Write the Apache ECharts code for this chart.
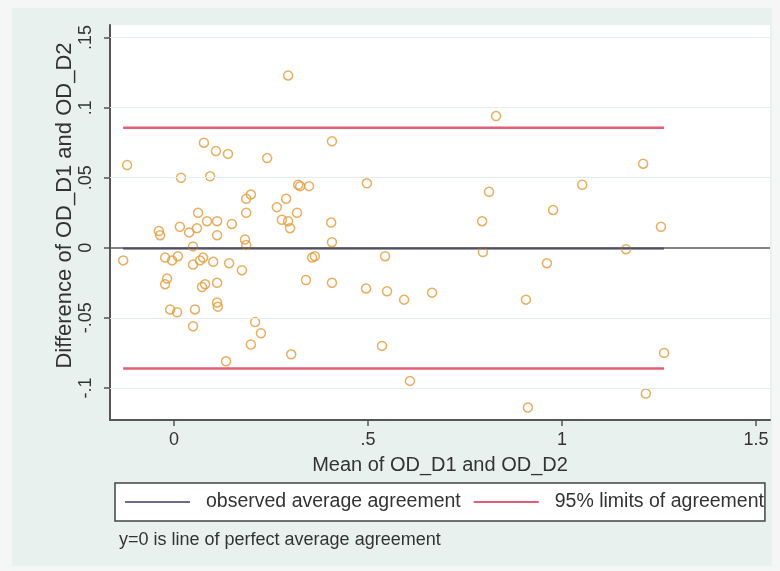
<!DOCTYPE html>
<html>
<head>
<meta charset="utf-8">
<script src="https://cdn.jsdelivr.net/npm/echarts@6/dist/echarts.min.js"></script>
<style>
  html, body { margin: 0; padding: 0; background: #f4f7f6; }
  #chart { width: 780px; height: 571px; }
</style>
</head>
<body>
<div id="chart"></div>
<script>
// Mean of OD_D1 and OD_D2 (x) and difference (y)
const meanVals = [
  0.077, 0.108, 0.139, -0.121, 0.240, 0.018, 0.093, 0.320, 0.198, 0.186,
  0.289, 0.062, 0.186, 0.265, 0.317, -0.039, -0.036, 0.015, 0.059, 0.039,
  0.085, 0.111, 0.111, 0.149, 0.278, 0.294, 0.299, 0.183, 0.186, 0.049,
  -0.131, -0.023, -0.005, 0.010, 0.049, 0.067, 0.075, 0.101, 0.142, 0.175,
  -0.018, -0.023, 0.072, 0.080, 0.111, 0.111, 0.113, -0.010, 0.008, 0.054,
  0.049, 0.209, 0.224, 0.198, 0.302, 0.134, 0.294, 0.407, 0.325, 0.348,
  0.497, 0.405, 0.407, 0.356, 0.363, 0.544, 0.340, 0.407, 0.495, 0.549,
  0.593, 0.665, 0.536, 0.608, 0.830, 1.209, 1.052, 0.812, 0.977, 0.794,
  1.255, 0.796, 1.165, 0.961, 0.907, 1.263, 1.216, 0.912
];
const diffVals = [
  0.075, 0.069, 0.067, 0.059, 0.064, 0.050, 0.051, 0.045, 0.038, 0.035,
  0.035, 0.025, 0.025, 0.029, 0.025, 0.012, 0.009, 0.015, 0.014, 0.011,
  0.019, 0.019, 0.009, 0.017, 0.020, 0.019, 0.014, 0.006, 0.002, 0.001,
  -0.009, -0.007, -0.009, -0.006, -0.012, -0.009, -0.007, -0.010, -0.011, -0.016,
  -0.022, -0.026, -0.028, -0.026, -0.025, -0.039, -0.042, -0.044, -0.046, -0.044,
  -0.056, -0.053, -0.061, -0.069, -0.076, -0.081, 0.123, 0.076, 0.044, 0.044,
  0.046, 0.018, 0.004, -0.007, -0.006, -0.006, -0.023, -0.025, -0.029, -0.031,
  -0.037, -0.032, -0.070, -0.095, 0.094, 0.060, 0.045, 0.040, 0.027, 0.019,
  0.015, -0.003, -0.001, -0.011, -0.037, -0.075, -0.104, -0.114
];
const meanDiff = -0.0005;
const upperLoA = 0.0857;
const lowerLoA = -0.0862;
const xTicks = [0, 0.5, 1, 1.5];
const xTickLabels = ['0', '.5', '1', '1.5'];
const yTicks = [-0.1, -0.05, 0, 0.05, 0.1, 0.15];
const yTickLabels = ['-.1', '-.05', '0', '.05', '.1', '.15'];

const FONT = "'Liberation Sans', Arial, sans-serif";
const TXT = '#333333';
const xLo = Math.min(...meanVals);
const xHi = Math.max(...meanVals);
const points = meanVals.map((x, i) => [x, diffVals[i]]);

function fmt(ticks, labels) {
  return function (v) {
    for (let i = 0; i < ticks.length; i++) {
      if (Math.abs(ticks[i] - v) < 1e-9) return labels[i];
    }
    return '';
  };
}

const chart = echarts.init(document.getElementById('chart'));
chart.setOption({
  animation: false,
  backgroundColor: 'transparent',
  textStyle: { fontFamily: FONT },
  graphic: [{
    type: 'rect', z: -100, silent: true,
    shape: { x: 12, y: 8, width: 760, height: 558 },
    style: { fill: '#e9f1ef' }
  }],
  title: {
    text: 'y=0 is line of perfect average agreement',
    left: 114, top: 526,
    textStyle: { fontSize: 18, fontWeight: 'normal', color: TXT, fontFamily: FONT }
  },
  legend: {
    data: ['observed average agreement', '95% limits of agreement'],
    left: 115, top: 483,
    orient: 'horizontal',
    icon: 'rect',
    itemWidth: 65, itemHeight: 2,
    itemGap: 13,
    padding: [9, 1, 9, 10],
    borderColor: '#444', borderWidth: 1.5,
    backgroundColor: '#ffffff',
    textStyle: { fontSize: 19.5, color: TXT, fontFamily: FONT, padding: [0, 0, 0, 11] }
  },
  grid: {
    left: 110, right: 10, top: 25, bottom: 151,
    show: true, backgroundColor: '#ffffff', borderWidth: 0
  },
  xAxis: {
    type: 'value', min: -0.165, max: 1.536,
    name: 'Mean of OD_D1 and OD_D2', nameLocation: 'middle', nameGap: 35,
    nameMoveOverlap: false,
    nameTextStyle: { fontSize: 20, color: TXT, fontFamily: FONT },
    axisLine: { onZero: false, lineStyle: { color: '#555', width: 2 } },
    axisTick: { show: true, customValues: xTicks, length: 6, lineStyle: { color: '#555', width: 1.5 } },
    axisLabel: { customValues: xTicks, formatter: fmt(xTicks, xTickLabels), fontSize: 18, color: TXT, margin: 11, fontFamily: FONT },
    splitLine: { show: false }
  },
  yAxis: {
    type: 'value', min: -0.1229, max: 0.159,
    name: 'Difference of OD_D1 and OD_D2', nameLocation: 'middle', nameGap: 34,
    nameMoveOverlap: false,
    nameTextStyle: { fontSize: 22, color: TXT, fontFamily: FONT, padding: [0, 0, 0, 34] },
    axisLine: { onZero: false, lineStyle: { color: '#555', width: 2 } },
    axisTick: { show: true, customValues: yTicks, length: 6, lineStyle: { color: '#555', width: 1.5 } },
    axisLabel: { customValues: yTicks, formatter: fmt(yTicks, yTickLabels), rotate: 90, fontSize: 18, color: TXT, margin: 15, fontFamily: FONT },
    splitLine: { show: false }
  },
  series: [
    {
      type: 'line', name: 'grid', silent: true, data: [], z: 1,
      markLine: {
        silent: true, symbol: 'none', label: { show: false },
        lineStyle: { color: '#e4eeee', width: 1, type: 'solid' },
        data: yTicks.filter(v => v !== 0).map(v => ({ yAxis: v }))
      }
    },
    {
      type: 'line', name: 'zero', silent: true, data: [], z: 2,
      markLine: {
        silent: true, symbol: 'none', label: { show: false },
        lineStyle: { color: '#5a5a5a', width: 1.5, type: 'solid' },
        data: [{ yAxis: 0 }]
      }
    },
    {
      type: 'line', name: 'observed average agreement', z: 3,
      data: [[xLo, meanDiff], [xHi, meanDiff]],
      showSymbol: false, symbol: 'none',
      lineStyle: { color: '#3a3468', width: 2 },
      itemStyle: { color: '#6f6890' }
    },
    {
      type: 'line', name: '95% limits of agreement', z: 3,
      data: [[xLo, upperLoA], [xHi, upperLoA]],
      showSymbol: false, symbol: 'none',
      lineStyle: { color: '#e45c76', width: 2.5 },
      itemStyle: { color: '#e45c76' }
    },
    {
      type: 'line', name: '95% limits of agreement', z: 3,
      data: [[xLo, lowerLoA], [xHi, lowerLoA]],
      showSymbol: false, symbol: 'none',
      lineStyle: { color: '#e45c76', width: 2.5 },
      itemStyle: { color: '#e45c76' }
    },
    {
      type: 'scatter', name: 'points', z: 4,
      data: points,
      symbol: 'circle', symbolSize: 9,
      itemStyle: { color: 'rgba(0,0,0,0)', borderColor: '#e39a3a', borderWidth: 1.5 }
    }
  ]
});
</script>
</body>
</html>
